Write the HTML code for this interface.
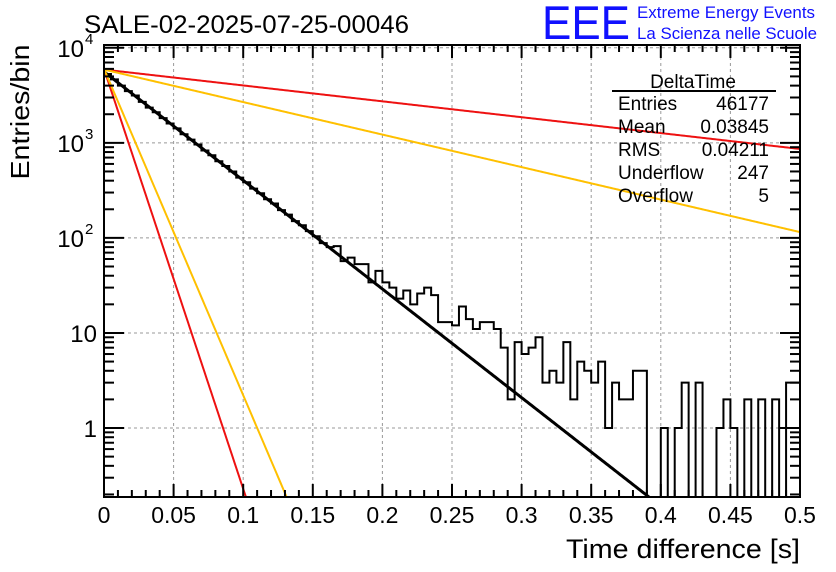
<!DOCTYPE html>
<html><head><meta charset="utf-8"><style>
body{margin:0;background:#fff;}
svg{display:block;font-family:"Liberation Sans",sans-serif;}
</style></head><body>
<svg id="c" width="836" height="572">
<text x="84" y="33" font-size="25" textLength="325" lengthAdjust="spacingAndGlyphs">SALE-02-2025-07-25-00046</text>
<text x="542" y="39" font-size="47" fill="#1010ff" textLength="88" lengthAdjust="spacingAndGlyphs">EEE</text>
<text x="637" y="18" font-size="17" fill="#1010ff" textLength="178" lengthAdjust="spacingAndGlyphs">Extreme Energy Events</text>
<text x="637" y="39" font-size="17" fill="#1010ff" textLength="180" lengthAdjust="spacingAndGlyphs">La Scienza nelle Scuole</text>
<g id="grid"></g>
<g id="series"></g>
<g id="axes"></g>
<g font-size="19">
<text x="693" y="88" text-anchor="middle">DeltaTime</text>
<line x1="612" y1="91" x2="776" y2="91" stroke="#000" stroke-width="2"/>
<text x="618" y="110">Entries</text><text x="769" y="110" text-anchor="end">46177</text>
<text x="618" y="133">Mean</text><text x="769" y="133" text-anchor="end">0.03845</text>
<text x="618" y="156">RMS</text><text x="769" y="156" text-anchor="end">0.04211</text>
<text x="618" y="179">Underflow</text><text x="769" y="179" text-anchor="end">247</text>
<text x="618" y="202">Overflow</text><text x="769" y="202" text-anchor="end">5</text>
</g>
<text x="29" y="112" font-size="26" text-anchor="middle" textLength="135" lengthAdjust="spacingAndGlyphs" transform="rotate(-90 29 112)">Entries/bin</text>
<text x="800" y="558" font-size="27" text-anchor="end" textLength="234" lengthAdjust="spacingAndGlyphs">Time difference [s]</text>
</svg>
<script>
const binWidth = 0.005;
const counts = [5300,4650,4000,3500,3150,2700,2350,2100,1820,1600,1420,1230,1080,960,830,740,640,570,500,430,385,330,295,255,230,196,176,150,136,118,104,88,80,82,57,62,53,53,34,45,34,30,23,28,20,26,30,25,13,13,12,19,14,11,13,13,11,7,2,8,6,7,9,3,4,3,8,2,5,4,3,5,1,3,2,2,4,4,0,0,1,0,1,3,0,3,0,0,1,2,1,0,2,0,2,0,2,0,3,3];
const fitNames = ['black-fit','red-steep','yellow-steep','red-shallow','yellow-shallow'];
const fitAmp = [5600,6000,6000,5900,5900];
const fitTau = [0.038,0.00983,0.01265,0.26,0.127];
const fitColor = ['#000','#ee1111','#ffc000','#ee1111','#ffc000'];
const xTicks = [0,0.05,0.1,0.15,0.2,0.25,0.3,0.35,0.4,0.45,0.5];
const xTickLabels = ['0','0.05','0.1','0.15','0.2','0.25','0.3','0.35','0.4','0.45','0.5'];
const yDecades = [1,10,100,1000,10000];

const L=104,R=800,T=45,B=497, yMin=Math.log10(0.188), yMax=Math.log10(10700);
const sx=v=>L+(v/0.5)*(R-L);
const sy=v=>B-(Math.log10(v)-yMin)/(yMax-yMin)*(B-T);
const NS='http://www.w3.org/2000/svg';
function mk(tag,attrs,parent){const e=document.createElementNS(NS,tag);for(const k in attrs)e.setAttribute(k,attrs[k]);parent.appendChild(e);return e;}
const grid=document.getElementById('grid'),series=document.getElementById('series'),axes=document.getElementById('axes');
xTicks.slice(1,-1).forEach(v=>{const l=mk('line',{x1:sx(v),x2:sx(v),y1:T,y2:B,stroke:'#999','stroke-dasharray':'3,3'},grid);

});
yDecades.forEach(v=>{if(sy(v)>T+2){const l=mk('line',{x1:L,x2:R,y1:sy(v),y2:sy(v),stroke:'#999','stroke-dasharray':'3,3'},grid);

}});
let d='';let prev=null;
counts.forEach((c,i)=>{const x0=sx(i*binWidth),x1=sx((i+1)*binWidth);const y=c>0?Math.min(sy(c),B):B;
if(prev===null)d+=`M${x0},${B}L${x0},${y}`;else d+=`L${x0},${y}`;d+=`L${x1},${y}`;prev=y;});
d+=`L${R},${B}`;
const h=mk('path',{d:d,fill:'none',stroke:'#000','stroke-width':2},series);


fitNames.forEach((n,k)=>{let p='';for(let i=0;i<=500;i++){const x=i*0.001;const v=fitAmp[k]*Math.exp(-x/fitTau[k]);if(v<0.188){const xe=-fitTau[k]*Math.log(0.188/fitAmp[k]);p+=`L${sx(xe)},${B}`;break;}p+=(p?'L':'M')+sx(x)+','+sy(v);}
const e=mk('path',{d:p,fill:'none',stroke:fitColor[k],'stroke-width':k==0?3:2},series);

});
const f=mk('rect',{x:L,y:T,width:R-L,height:B-T,fill:'none',stroke:'#000','stroke-width':2},axes);


for(let i=0;i<=50;i++){const x=sx(i*0.01);const len=i%5==0?13:7;
mk('line',{x1:x,x2:x,y1:B,y2:B-len,stroke:'#000','stroke-width':2},axes);
mk('line',{x1:x,x2:x,y1:T,y2:T+len,stroke:'#000','stroke-width':2},axes);}
xTicks.forEach((v,i)=>{const t=mk('text',{x:sx(v),y:523,'font-size':23,'text-anchor':'middle'},axes);t.textContent=xTickLabels[i];

});
for(let e=-1;e<=4;e++)for(let m=1;m<=9;m++){const v=m*Math.pow(10,e);const y=sy(v);if(y<T||y>B)continue;const len=m==1?20:10;
mk('line',{x1:L,x2:L+len,y1:y,y2:y,stroke:'#000','stroke-width':2},axes);
mk('line',{x1:R,x2:R-len,y1:y,y2:y,stroke:'#000','stroke-width':2},axes);}
const yl=[['1',''],['10',''],['10','2'],['10','3'],['10','4']];
yDecades.forEach((v,i)=>{const t=mk('text',{x:yl[i][1]?84:97,y:sy(v)+9,'font-size':24,'text-anchor':'end'},axes);t.textContent=yl[i][0];


if(yl[i][1]){const s=mk('text',{x:85,y:sy(v)-4,'font-size':15},axes);s.textContent=yl[i][1];

}});
</script>
</body></html>
